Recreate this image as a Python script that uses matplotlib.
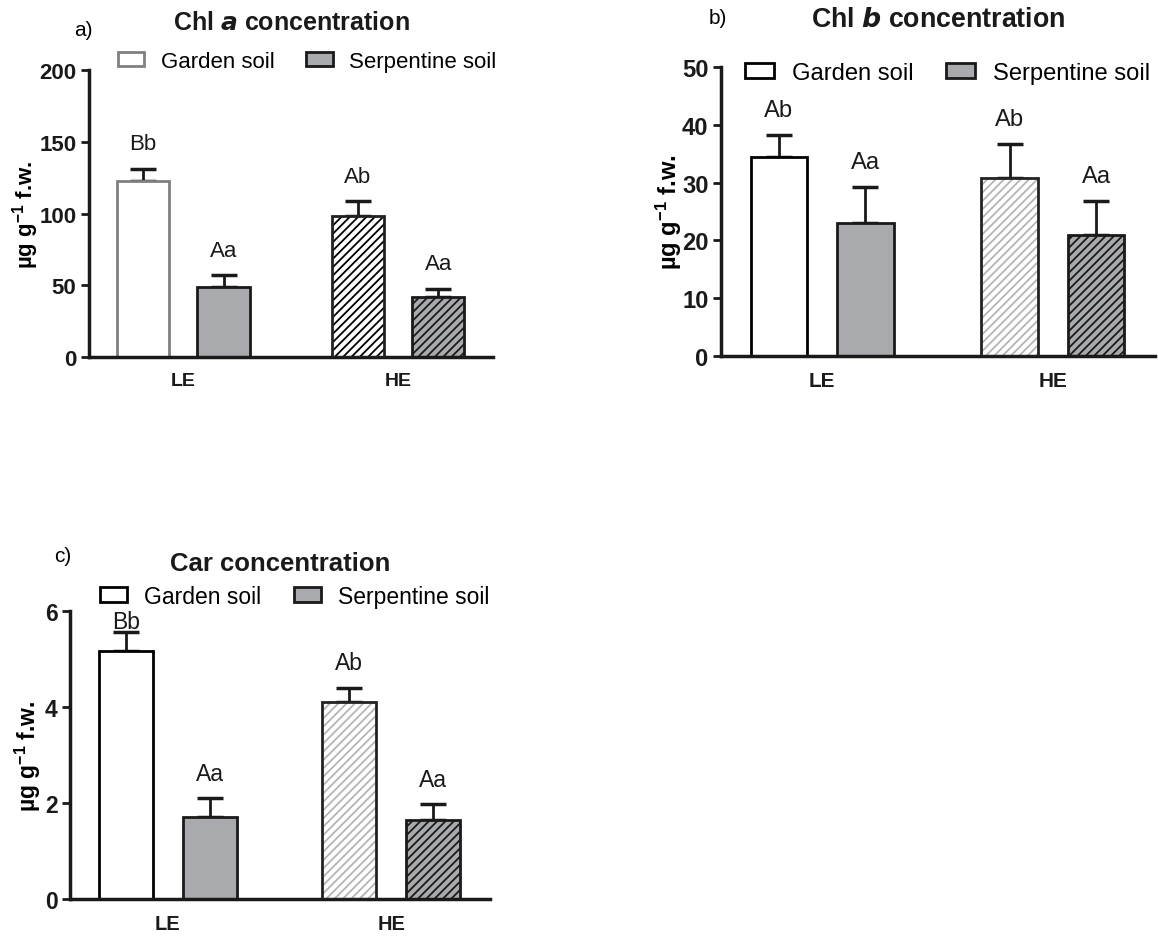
# Chl a, Chl b and carotenoid concentrations, LE vs HE, garden vs serpentine soil
import numpy as np
import matplotlib
matplotlib.use("Agg")
import matplotlib.pyplot as plt
from matplotlib.patches import Patch

plt.rcParams["font.family"] = ["Liberation Sans", "DejaVu Sans"]
plt.rcParams["mathtext.fontset"] = "custom"
plt.rcParams["mathtext.rm"] = "Liberation Sans"
plt.rcParams["mathtext.bf"] = "Liberation Sans:bold"
plt.rcParams["mathtext.it"] = "Liberation Sans:italic"
plt.rcParams["hatch.linewidth"] = 1.3

groups = ["LE", "HE"]
soils = ["Garden soil", "Serpentine soil"]

# means and upper SD for [LE, HE]
chla_garden = [122.6, 98.5]
chla_garden_err = [8.5, 10.0]
chla_serp = [48.5, 42.0]
chla_serp_err = [8.5, 5.5]
chla_labels = [["Bb", "Ab"], ["Aa", "Aa"]]

chlb_garden = [34.5, 30.8]
chlb_garden_err = [3.7, 5.8]
chlb_serp = [23.0, 20.9]
chlb_serp_err = [6.2, 6.0]
chlb_labels = [["Ab", "Ab"], ["Aa", "Aa"]]

car_garden = [5.17, 4.10]
car_garden_err = [0.39, 0.30]
car_serp = [1.71, 1.65]
car_serp_err = [0.39, 0.32]
car_labels = [["Bb", "Ab"], ["Aa", "Aa"]]

GREY = "#a9aaad"
DARK = "#1a1a1a"
W = 1158 / 100
H = 937 / 100
fig = plt.figure(figsize=(W, H), dpi=100)


def panel(rect, garden, gerr, serp, serr, labels, ymax, ystep, title,
          he_garden_hatch, leg_xy, ylab_x, garden_edge="black",
          label_offsets=None, fs=1.0):
    ax = fig.add_axes(rect)
    x = np.arange(len(groups))
    off = 0.188
    w = 0.243
    # garden bars
    for i in range(len(groups)):
        if i == 0:
            ax.bar(x[i] - off, garden[i], w, color="white",
                   edgecolor=garden_edge, linewidth=2, zorder=2)
        else:
            ax.bar(x[i] - off, garden[i], w, color="white", hatch="////",
                   edgecolor=he_garden_hatch, linewidth=0, zorder=2)
            ax.bar(x[i] - off, garden[i], w, fill=False,
                   edgecolor="#222222", linewidth=2, zorder=3)
    # serpentine bars
    for i in range(len(groups)):
        if i == 0:
            ax.bar(x[i] + off, serp[i], w, color=GREY,
                   edgecolor=DARK, linewidth=2, zorder=2)
        else:
            ax.bar(x[i] + off, serp[i], w, color=GREY, hatch="////",
                   edgecolor=DARK, linewidth=0, zorder=2)
            ax.bar(x[i] + off, serp[i], w, fill=False,
                   edgecolor=DARK, linewidth=2, zorder=3)
    # upper error bars
    ax.errorbar(x - off, garden, yerr=[np.zeros(2), gerr], fmt="none",
                ecolor=DARK, elinewidth=2, capsize=9.5, capthick=2.5, zorder=1)
    ax.errorbar(x + off, serp, yerr=[np.zeros(2), serr], fmt="none",
                ecolor=DARK, elinewidth=2, capsize=9.5, capthick=2.5, zorder=1)
    # significance letters
    tops = [np.array(garden) + np.array(gerr), np.array(serp) + np.array(serr)]
    for s in range(2):
        for i in range(len(groups)):
            dy = 18
            if label_offsets is not None and label_offsets[s][i] is not None:
                dy = label_offsets[s][i]
            ax.annotate(labels[s][i], (x[i] + (2 * s - 1) * off, tops[s][i]),
                        xytext=(0, dy), textcoords="offset points",
                        ha="center", va="center", fontsize=16 * fs, color=DARK,
                        annotation_clip=False)

    ax.set_xlim(-0.438, 1.442)
    ax.set_ylim(0, ymax)
    ax.set_yticks(np.arange(0, ymax + ystep / 2, ystep))
    ax.set_xticks(x)
    ax.set_xticklabels(groups, fontweight="bold", fontsize=14 * fs)
    for lab in ax.get_yticklabels():
        lab.set_fontweight("bold")
        lab.set_fontsize(16 * fs)
    ax.tick_params(axis="y", length=6, width=2, colors=DARK, pad=3)
    ax.tick_params(axis="x", length=0, pad=11, colors=DARK)
    ax.spines["top"].set_visible(False)
    ax.spines["right"].set_visible(False)
    for side in ["left", "bottom"]:
        ax.spines[side].set_linewidth(2.5)
        ax.spines[side].set_color(DARK)
    ax.set_ylabel("µg g$^{\\mathbf{-1}}$ f.w.", fontweight="bold",
                  fontsize=16 * fs)
    ax.yaxis.set_label_coords(ylab_x, 0.5)

    handles = [Patch(facecolor="white", edgecolor=garden_edge, linewidth=2),
               Patch(facecolor=GREY, edgecolor=DARK, linewidth=2)]
    ax.legend(handles, soils, loc="center", bbox_to_anchor=leg_xy,
              ncol=2, frameon=False, fontsize=16 * fs, handlelength=1.2,
              handleheight=0.6, columnspacing=1.4, handletextpad=0.75,
              borderaxespad=0, borderpad=0)
    ax.text(0.5, 1.167, title, transform=ax.transAxes, ha="center",
            va="center", fontweight="bold", fontsize=18 * fs, color=DARK)
    return ax


ax_a = panel([0.0769, 0.6179, 0.3488, 0.3063], chla_garden, chla_garden_err,
             chla_serp, chla_serp_err, chla_labels, 200, 50,
             "Chl $\\boldsymbol{a}$ concentration", "black",
             (0.54, 1.031), -0.118, garden_edge="#808080")
ax_b = panel([0.6226, 0.619, 0.3748, 0.3084], chlb_garden, chlb_garden_err,
             chlb_serp, chlb_serp_err, chlb_labels, 50, 10,
             "Chl $\\boldsymbol{b}$ concentration", "#b5b5b5",
             (0.522, 0.979), -0.086, fs=1.07)
ax_c = panel([0.0604, 0.0395, 0.3627, 0.3073], car_garden, car_garden_err,
             car_serp, car_serp_err, car_labels, 6, 2,
             "Car concentration", "#b5b5b5",
             (0.535, 1.052), -0.063, label_offsets=[[8, None], [None, None]],
             fs=1.03)

fig.text(83 / 1158, 1 - 30 / 937, "a)", fontsize=15, ha="center", va="center")
fig.text(718 / 1158, 1 - 18 / 937, "b)", fontsize=15, ha="center", va="center")
fig.text(63 / 1158, 1 - 556 / 937, "c)", fontsize=15, ha="center", va="center")

fig.savefig("out.png", dpi=100)
